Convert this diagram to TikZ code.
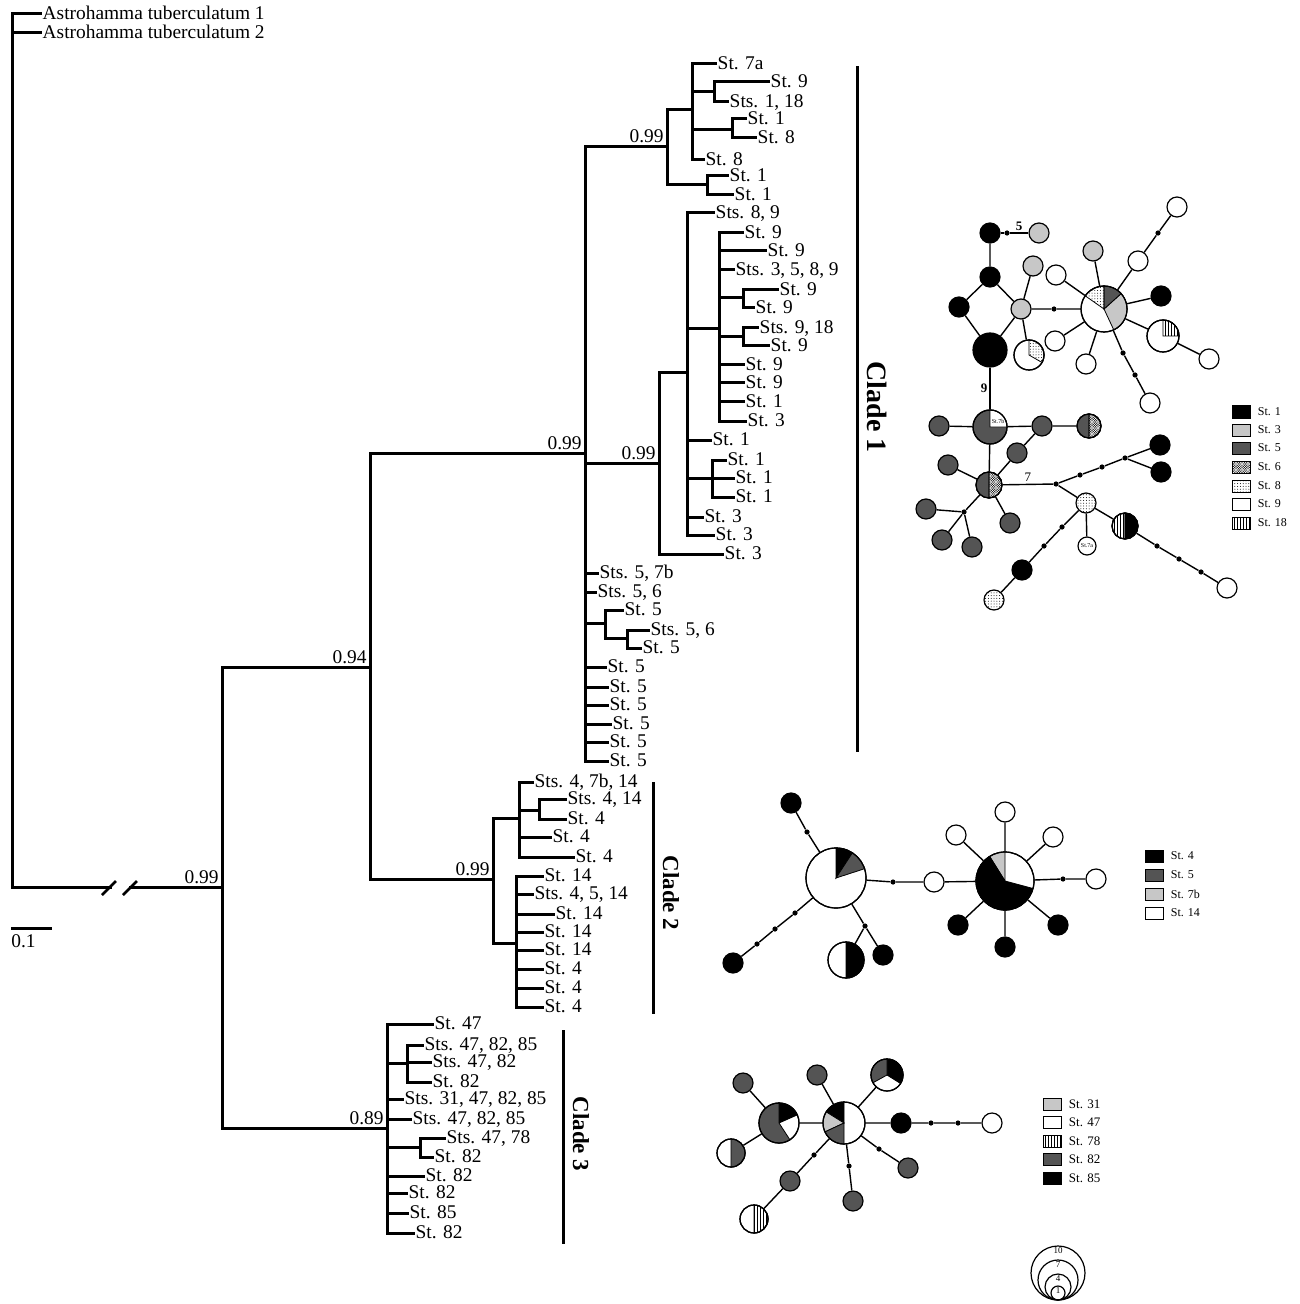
\documentclass[tikz,border=0pt]{standalone}
\usepackage{fontspec}
\setmainfont{Liberation Serif}
\usetikzlibrary{patterns}
\definecolor{lgray}{gray}{0.78}
\definecolor{dgray}{gray}{0.33}
\newcommand{\treefont}{\fontsize{9.7}{11}\selectfont}
% fine fills for the pie charts
\pgfdeclarepatternformonly{sdots}{\pgfqpoint{-0.4pt}{-0.4pt}}{\pgfqpoint{0.4pt}{0.4pt}}{\pgfqpoint{1.4pt}{1.4pt}}{\pgfpathcircle{\pgfpointorigin}{0.25pt}\pgfusepath{fill}}
\pgfdeclarepatternformonly{xdots}{\pgfqpoint{-0.4pt}{-0.4pt}}{\pgfqpoint{1.2pt}{1.2pt}}{\pgfqpoint{1.2pt}{1.2pt}}{\pgfpathcircle{\pgfpointorigin}{0.33pt}\pgfpathcircle{\pgfqpoint{0.6pt}{0.6pt}}{0.33pt}\pgfusepath{fill}}
\pgfdeclarepatternformonly{vstripes}{\pgfqpoint{-0.1pt}{-0.1pt}}{\pgfqpoint{1.6pt}{1.6pt}}{\pgfqpoint{1.5pt}{1.5pt}}{\pgfsetlinewidth{0.35pt}\pgfpathmoveto{\pgfqpoint{0.75pt}{-0.1pt}}\pgfpathlineto{\pgfqpoint{0.75pt}{1.6pt}}\pgfusepath{stroke}}
% #1 node, #2 radius, #3 start, #4 end, #5 fill style
\newcommand{\slice}[5]{\filldraw[line width=0.4pt,#5] (#1.center) -- +(#3:#2) arc[start angle=#3,end angle=#4,radius=#2] -- cycle;}
% #1 parent x, #2 x, #3 y, #4 top, #5 bottom
\newcommand{\clade}[5]{\draw[branch] (#1,#3) -- (#2,#3); \draw[branch] (#2,#4) -- (#2,#5);}
\begin{document}
\begin{tikzpicture}[x=0.5pt,y=-0.5pt,
  branch/.style={line width=1.5pt,line cap=rect},
  tip/.style={anchor=base west,yshift=-2.8pt,inner sep=0.6pt,font=\treefont},
  supp/.style={anchor=base east,inner sep=0pt,xshift=-1.5pt,yshift=2pt,font=\treefont},
  cladetext/.style={rotate=-90,font=\bfseries\fontsize{11.5}{12}\selectfont},
  hap/.style={circle,draw,line width=0.6pt,inner sep=0pt,minimum size=10pt,fill=white},
  mut/.style={circle,fill=black,inner sep=0pt,minimum size=2.6pt},
  link/.style={line width=0.7pt},
  blk/.style={fill=black},lgr/.style={fill=lgray},dgr/.style={fill=dgray},wht/.style={fill=white},
  xdot/.style={pattern=xdots},sdot/.style={pattern=sdots},vln/.style={pattern=vstripes},
  lbox/.style={draw,line width=0.5pt,minimum width=9pt,minimum height=6pt,inner sep=0pt},
  ltext/.style={anchor=west,inner sep=0pt,xshift=3.5pt,font=\fontsize{6}{7}\selectfont},
  steplab/.style={font=\bfseries\fontsize{6.5}{7}\selectfont,inner sep=1pt}]
\useasboundingbox (0,0) rectangle (1299,1304);

% tree
\draw[branch] (12,14) -- (12,887) -- (110,887);
\draw[branch] (130,887) -- (222,887);
\draw[line width=1.3pt] (102,895) -- (116,881) (123,895) -- (137,881);
\draw[branch] (222,667) -- (222,1128);
\clade{222}{370}{667}{453}{879}
\clade{370}{585}{453}{147}{761}
\clade{585}{667}{147}{110}{185}
\clade{667}{692}{110}{64}{160}
\clade{692}{714}{92}{82}{102}
\clade{692}{732}{130}{119}{138}
\clade{667}{707}{185}{176}{195}
\clade{585}{659}{463}{373}{554}
\clade{659}{687}{373}{213}{535}
\clade{687}{719}{329}{233}{421}
\clade{719}{743}{298}{290}{308}
\clade{719}{743}{337}{328}{346}
\clade{687}{712}{478}{460}{497}
\clade{585}{605}{623}{610}{638}
\clade{605}{627}{638}{630}{648}
\clade{370}{493}{879}{818}{943}
\clade{493}{519}{818}{782}{857}
\clade{519}{539}{810}{799}{819}
\clade{493}{516}{943}{876}{1007}
\clade{222}{387}{1128}{1024}{1233}
\clade{387}{407}{1063}{1045}{1082}
\clade{387}{420}{1147}{1138}{1157}
\foreach \px/\y/\tx/\lab in {12/14/40/Astrohamma tuberculatum 1,12/33/40/Astrohamma tuberculatum 2,
  692/64/715/St. 7a,714/82/768/St. 9,714/102/727/{Sts. 1, 18},732/119/745/St. 1,732/138/755/St. 8,
  692/160/703/St. 8,707/176/727/St. 1,707/195/732/St. 1,
  687/213/713/{Sts. 8, 9},719/233/742/St. 9,719/251/765/St. 9,719/270/733/{Sts. 3, 5, 8, 9},
  743/290/777/St. 9,743/308/753/St. 9,743/328/757/{Sts. 9, 18},743/346/768/St. 9,
  719/365/743/St. 9,719/383/743/St. 9,719/402/743/St. 1,719/421/745/St. 3,
  687/440/710/St. 1,712/460/725/St. 1,712/478/733/St. 1,712/497/733/St. 1,
  687/517/702/St. 3,687/535/713/St. 3,659/554/722/St. 3,
  585/573/597/{Sts. 5, 7b},585/592/595/{Sts. 5, 6},605/610/622/St. 5,627/630/648/{Sts. 5, 6},627/648/640/St. 5,
  585/667/605/St. 5,585/687/607/St. 5,585/705/607/St. 5,585/724/610/St. 5,585/742/607/St. 5,585/761/607/St. 5,
  519/782/532/{Sts. 4, 7b, 14},539/799/565/{Sts. 4, 14},539/819/565/St. 4,519/837/550/St. 4,519/857/573/St. 4,
  516/876/542/St. 14,516/894/532/{Sts. 4, 5, 14},516/914/553/St. 14,516/932/542/St. 14,
  516/950/542/St. 14,516/969/542/St. 4,516/988/542/St. 4,516/1007/542/St. 4,
  387/1024/432/St. 47,407/1045/422/{Sts. 47, 82, 85},407/1062/430/{Sts. 47, 82},407/1082/430/St. 82,
  387/1099/402/{Sts. 31, 47, 82, 85},387/1119/410/{Sts. 47, 82, 85},420/1138/444/{Sts. 47, 78},
  420/1157/432/St. 82,387/1176/423/St. 82,387/1193/406/St. 82,387/1213/407/St. 85,387/1233/413/St. 82}
  {\draw[branch] (\px,\y) -- (\tx,\y) node[tip] (t\y) {\lab};}
\foreach \x/\y/\v in {667/147/0.99,659/463/0.99,585/453/0.99,370/667/0.94,493/879/0.99,387/1128/0.89,222/887/0.99}
  \node[supp] (b\x) at (\x,\y) {\v};
% scale bar
\draw[branch] (12,928) -- (50,928);
\node[anchor=west,inner sep=0pt,font=\treefont] (scale) at (11,941) {0.1};
% clade bars
\draw[branch] (857,68) -- (857,750);
\node[cladetext,font=\bfseries\fontsize{14}{15}\selectfont] (cl1) at (877,407) {Clade 1};
\draw[branch] (653,783) -- (653,1012);
\node[cladetext] (cl2) at (671,893) {Clade 2};
\draw[branch] (563,1031) -- (563,1242);
\node[cladetext] (cl3) at (581,1134) {Clade 3};

% network clade 1
\foreach \n/\x/\y in {a1/990/233,a2/990/277,a3/959/307,a5/1161/296,k1/1160/445,k2/1161/472,k3/1022/570}
  \node[hap,blk] (\n) at (\x,\y) {};
\node[hap,blk,minimum size=17pt] (a4) at (990,350) {};
\foreach \n/\x/\y in {b0/1039/233,b1/1021/309,b2/1033/266,b3/1093/251}
  \node[hap,lgr] (\n) at (\x,\y) {};
\foreach \n/\x/\y in {w1/1056/275,w2/1055/341,w3/1086/364,w4/1138/261,w5/1177/207,w6/1209/359,w7/1150/403,w9/1227/588}
  \node[hap] (\n) at (\x,\y) {};
\foreach \n/\x/\y in {g1/939/426,g2/1042/426,g3/1017/453,g4/948/465,g5/1010/523,g6/926/509,g7/942/540,g8/972/547}
  \node[hap,dgr] (\n) at (\x,\y) {};
\node[hap,sdot] (s8a) at (1086,503) {};
\node[hap,sdot] (s8b) at (994,600) {};
\node[hap,minimum size=9pt,font=\fontsize{3}{3}\selectfont] (w8) at (1087,546) {St.7a};
\node[hap,minimum size=15pt] (p1) at (1029,355) {};
\node[hap,minimum size=23pt] (h1) at (1104,309) {};
\node[hap,minimum size=16pt] (p2) at (1163,336) {};
\node[hap,dgr,minimum size=17pt] (c1) at (990,427) {};
\node[hap,minimum size=12pt] (p3) at (1089,426) {};
\node[hap,minimum size=13pt] (c2) at (989,485) {};
\node[hap,minimum size=13pt] (p4) at (1125,526) {};
\foreach \n/\x/\y in {d1/1007/233,d2/1054/309,d3/1158/233,d4/1123/353,d5/1135/375,d6/964/512,j1/1056/484,
  d7/1080/475,d8/1102/467,j2/1125/458,d9/1157/546,d10/1179/559,d11/1201/572,d12/1062/527,d13/1044/546}
  \node[mut] (\n) at (\x,\y) {};
\draw[link] (a1) -- (d1) -- node[steplab,above] (lab5) {5} (b0);
\draw[link] (a1) -- (a2) -- (a3) -- (a4) -- (b1) -- (a2);
\draw[link] (b1) -- (b2) (b1) -- (p1) (b1) -- (d2) -- (h1);
\draw[link] (h1) -- (b3) (h1) -- (w1) (h1) -- (w2) (h1) -- (w3) (h1) -- (a5);
\draw[link] (h1) -- (w4) -- (d3) -- (w5) (h1) -- (p2) -- (w6) (h1) -- (d4) -- (d5) -- (w7);
\draw[link] (a4) -- node[steplab,left] (lab9) {9} (c1);
\draw[link] (c1) -- (g1) (c1) -- (g2) -- (p3) (g2) -- (g3) -- (c2) (c1) -- (c2);
\draw[link] (c2) -- (g4) (c2) -- (g5) (c2) -- (d6) (d6) -- (g6) (d6) -- (g7) (d6) -- (g8);
\draw[link] (c2) -- node[above,inner sep=1pt,font=\fontsize{6.5}{7}\selectfont] (lab7) {7} (j1);
\draw[link] (j1) -- (d7) -- (d8) -- (j2) (j2) -- (k1) (j2) -- (k2);
\draw[link] (j1) -- (s8a) -- (w8) (s8a) -- (p4) -- (d9) -- (d10) -- (d11) -- (w9);
\draw[link] (s8a) -- (d12) -- (d13) -- (k3) -- (s8b);

% network clade 2
\foreach \n/\x/\y in {n1/791/803,n7/958/925,n8/1005/947,n9/1058/925,n10/733/963,n11/883/955}
  \node[hap,blk] (\n) at (\x,\y) {};
\foreach \n/\x/\y in {n2/934/882,n3/1005/812,n4/956/835,n5/1053/837,n6/1096/879}
  \node[hap] (\n) at (\x,\y) {};
\node[hap,minimum size=30pt] (h2) at (836,878) {};
\node[hap,minimum size=29pt] (h3) at (1005,881) {};
\node[hap,minimum size=18pt] (p5) at (846,960) {};
\foreach \n/\x/\y in {e1/807/832,e2/893/882,e3/1063/879,e4/795/913,e5/775/929,e6/757/944,e7/865/926}
  \node[mut] (\n) at (\x,\y) {};
\draw[link] (n1) -- (e1) -- (h2) -- (e2) -- (n2) -- (h3);
\draw[link] (h3) -- (n3) (h3) -- (n4) (h3) -- (n5) (h3) -- (e3) -- (n6) (h3) -- (n7) (h3) -- (n8) (h3) -- (n9);
\draw[link] (h2) -- (e4) -- (e5) -- (e6) -- (n10) (h2) -- (e7) -- (p5) (e7) -- (n11);

% network clade 3
\foreach \n/\x/\y in {m1/743/1083,m3/817/1075,m6/908/1168,m7/853/1201,m8/790/1181}
  \node[hap,dgr] (\n) at (\x,\y) {};
\node[hap,blk] (m4) at (901,1123) {};
\node[hap] (m5) at (992,1123) {};
\node[hap,minimum size=20pt] (q1) at (779,1123) {};
\node[hap,minimum size=14pt] (m2) at (731,1153) {};
\node[hap,minimum size=21pt] (h4) at (844,1123) {};
\node[hap,minimum size=16pt] (p6) at (887,1075) {};
\node[hap,minimum size=14pt] (p7) at (754,1219) {};
\foreach \n/\x/\y in {f1/931/1123,f2/958/1123,f3/879/1149,f4/849/1166,f5/814/1155}
  \node[mut] (\n) at (\x,\y) {};
\draw[link] (m1) -- (q1) -- (m2) (q1) -- (h4) -- (m3) (h4) -- (p6);
\draw[link] (h4) -- (m4) -- (f1) -- (f2) -- (m5) (h4) -- (f3) -- (m6) (h4) -- (f4) -- (m7) (h4) -- (f5) -- (m8) -- (p7);

% pie charts
\slice{p1}{7.5pt}{-30}{90}{sdot}
\slice{h1}{11.5pt}{-65}{42}{lgr}
\slice{h1}{11.5pt}{42}{90}{dgr}
\slice{h1}{11.5pt}{90}{145}{sdot}
\slice{p2}{8pt}{0}{90}{vln}
\slice{c1}{8.5pt}{0}{90}{wht}
\slice{p3}{6pt}{90}{270}{dgr}
\slice{p3}{6pt}{-90}{90}{xdot}
\slice{c2}{6.5pt}{90}{270}{dgr}
\slice{c2}{6.5pt}{-90}{90}{xdot}
\slice{p4}{6.5pt}{90}{270}{vln}
\slice{p4}{6.5pt}{-90}{90}{blk}
\slice{h2}{15pt}{57}{90}{blk}
\slice{h2}{15pt}{18}{57}{dgr}
\slice{h3}{14.5pt}{90}{122}{lgr}
\slice{h3}{14.5pt}{122}{345}{blk}
\slice{p5}{9pt}{-90}{90}{blk}
\slice{q1}{10pt}{24}{90}{blk}
\slice{q1}{10pt}{90}{303}{dgr}
\slice{m2}{7pt}{-90}{90}{dgr}
\slice{h4}{10.5pt}{90}{148}{blk}
\slice{h4}{10.5pt}{148}{205}{lgr}
\slice{h4}{10.5pt}{205}{270}{dgr}
\slice{p6}{8pt}{-32}{90}{blk}
\slice{p6}{8pt}{90}{209}{dgr}
\slice{p7}{7pt}{-90}{90}{vln}
\foreach \n/\r in {p1/7.5pt,h1/11.5pt,p2/8pt,c1/8.5pt,p3/6pt,c2/6.5pt,p4/6.5pt,h2/15pt,h3/14.5pt,
  p5/9pt,q1/10pt,m2/7pt,h4/10.5pt,p6/8pt,p7/7pt}
  \draw[line width=0.6pt] (\n.center) circle[radius=\r];
\node[inner sep=0pt,font=\fontsize{3}{3}\selectfont] (t7b) at (998,421) {St.7b};

% legends
\foreach \y/\k/\s in {412/blk/St. 1,430/lgr/St. 3,448/dgr/St. 5,467/xdot/St. 6,486/sdot/St. 8,504/wht/St. 9,523/vln/St. 18}
  {\node[lbox,\k] (ka\y) at (1241,\y) {}; \node[ltext] (la\y) at (ka\y.east) {\s};}
\foreach \y/\k/\s in {856/blk/St. 4,875/dgr/St. 5,894/lgr/St. 7b,913/wht/St. 14}
  {\node[lbox,\k] (kb\y) at (1154,\y) {}; \node[ltext] (lb\y) at (kb\y.east) {\s};}
\foreach \y/\k/\s in {1104/lgr/St. 31,1122/wht/St. 47,1141/vln/St. 78,1159/dgr/St. 82,1178/blk/St. 85}
  {\node[lbox,\k] (kc\y) at (1052,\y) {}; \node[ltext,font=\fontsize{6.5}{7}\selectfont] (lc\y) at (kc\y.east) {\s};}
\foreach \r/\v in {27/10,20/7,13/4,7/1}
  {\draw[line width=0.6pt] (1058,{1300-\r}) circle[radius=\r*0.5pt];
   \node[inner sep=0pt,font=\fontsize{4.5}{5}\selectfont] (sz\v) at (1058,{1300-2*\r+4.5}) {\v};}
\end{tikzpicture}
\end{document}
